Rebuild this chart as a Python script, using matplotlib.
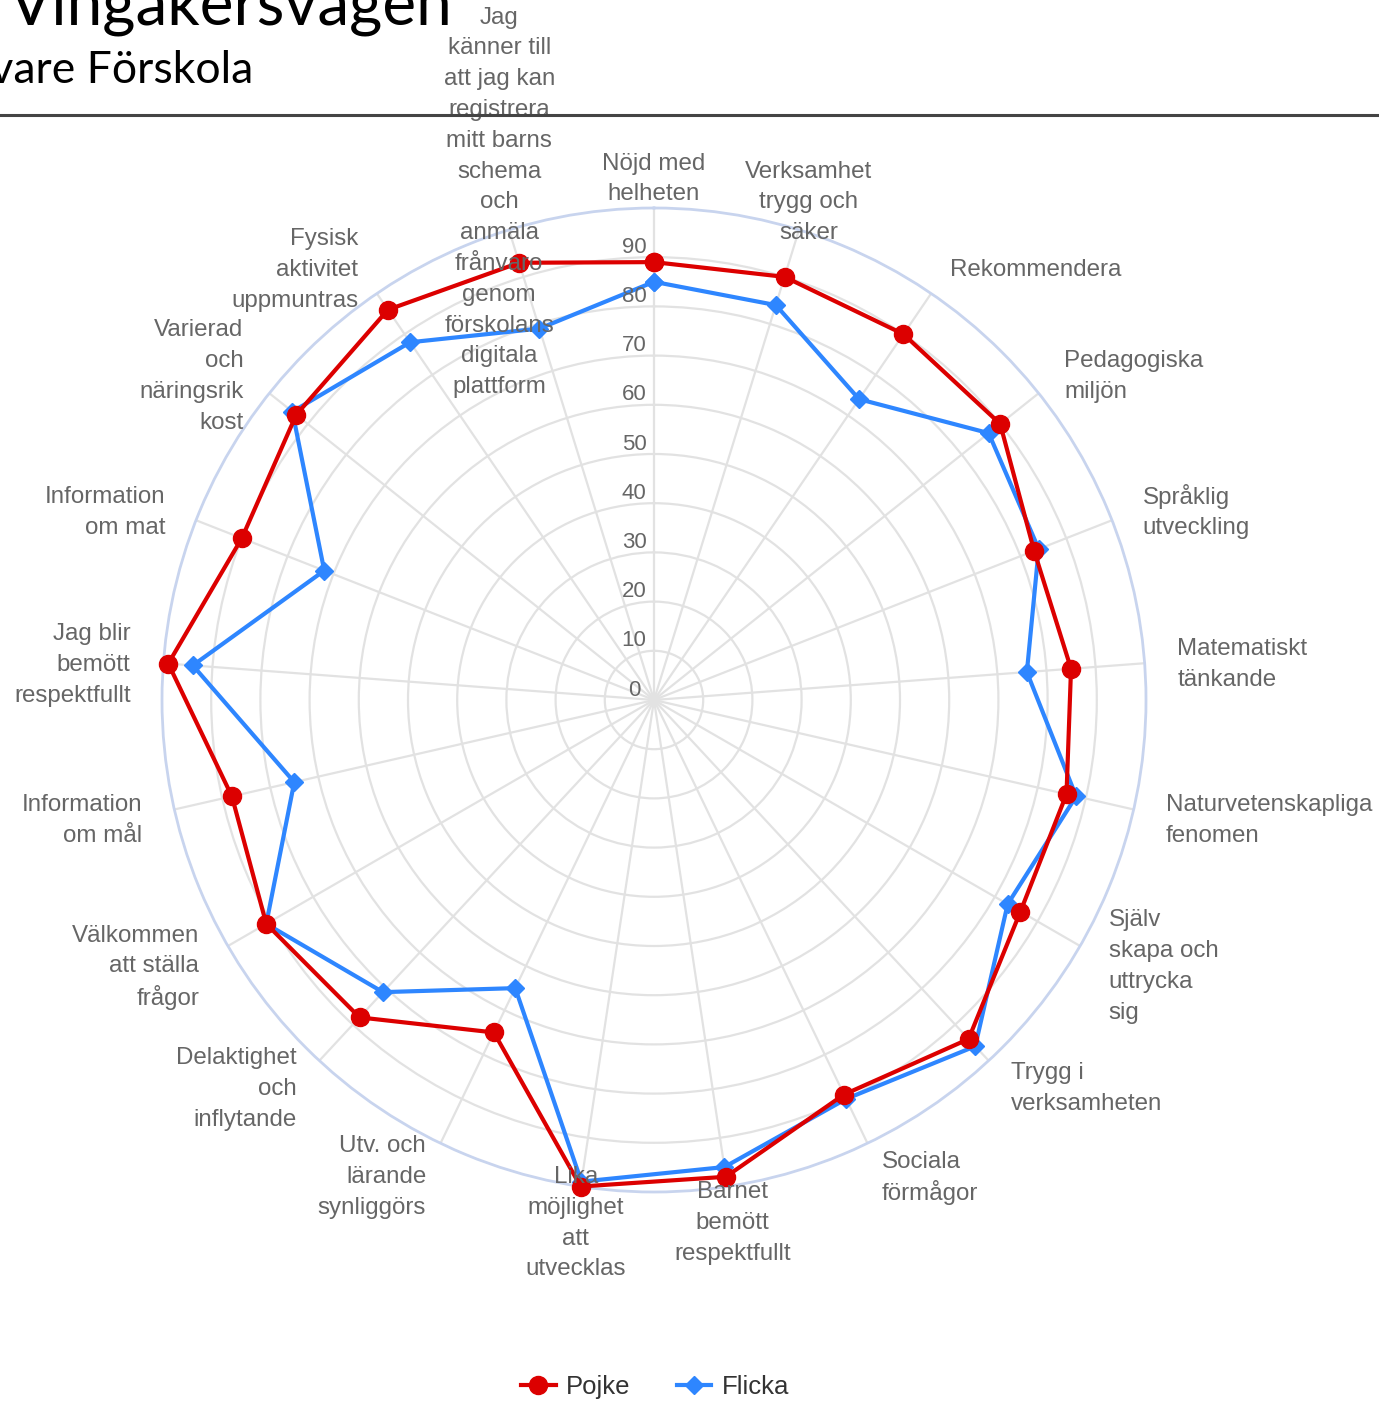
import numpy as np
import matplotlib
matplotlib.use("Agg")
import matplotlib.pyplot as plt
from matplotlib.transforms import offset_copy
from matplotlib.lines import Line2D

plt.rcParams['font.family'] = ['Liberation Sans', 'DejaVu Sans']

# categories, clockwise from the top
labels = [
    "Nöjd med\nhelheten",
    "Verksamhet\ntrygg och\nsäker",
    "Rekommendera",
    "Pedagogiska\nmiljön",
    "Språklig\nutveckling",
    "Matematiskt\ntänkande",
    "Naturvetenskapliga\nfenomen",
    "Själv\nskapa och\nuttrycka\nsig",
    "Trygg i\nverksamheten",
    "Sociala\nförmågor",
    "Barnet\nbemött\nrespektfullt",
    "Lika\nmöjlighet\natt\nutvecklas",
    "Utv. och\nlärande\nsynliggörs",
    "Delaktighet\noch\ninflytande",
    "Välkommen\natt ställa\nfrågor",
    "Information\nom mål",
    "Jag blir\nbemött\nrespektfullt",
    "Information\nom mat",
    "Varierad\noch\nnäringsrik\nkost",
    "Fysisk\naktivitet\nuppmuntras",
    "Jag\nkänner till\natt jag kan\nregistrera\nmitt barns\nschema\noch\nanmäla\nfrånvaro\ngenom\nförskolans\ndigitala\nplattform",
]

pojke = [89, 90, 90, 90, 83, 85, 86, 86, 94, 89, 98, 100, 75, 88, 91, 88, 99, 90, 93, 96, 93]
flicka = [85, 84, 74, 87, 84, 76, 88, 83, 96, 90, 96, 99, 65, 81, 91, 75, 94, 72, 94, 88, 79]

ticks = [0, 10, 20, 30, 40, 50, 60, 70, 80, 90]

red = '#dc0000'
blue = '#2e86ff'
grey_txt = '#666666'

W, H = 1379, 1402
fig = plt.figure(figsize=(W / 100, H / 100), dpi=100)

cx, cy, R = 654, 700, 492
ax = fig.add_axes([(cx - R) / W, (H - cy - R) / H, 2 * R / W, 2 * R / H], projection='polar')
ax.set_theta_zero_location('N')
ax.set_theta_direction(-1)
ax.set_ylim(0, 100)

n = len(labels)
theta = np.arange(n) * 2 * np.pi / n

ax.set_xticks(theta)
ax.set_xticklabels([])
ax.set_yticks(ticks[1:])
ax.set_yticklabels([])
ax.grid(color='#e2e2e2', linewidth=1.6)
ax.spines['polar'].set_color('#c8d4ee')
ax.spines['polar'].set_linewidth(2)
ax.tick_params(length=0)

# series
t_closed = np.append(theta, theta[0])
ax.plot(t_closed, pojke + pojke[:1], color=red, lw=3, marker='o', ms=13, zorder=5, clip_on=False)
ax.plot(t_closed, flicka + flicka[:1], color=blue, lw=3, marker='D', ms=9, zorder=4, clip_on=False)

# radial tick labels along the top spoke
tr = offset_copy(ax.transData, fig=fig, x=-20, y=10, units='dots')
for v in ticks:
    ax.text(0, v, str(v), transform=tr, ha='center', va='center', fontsize=16, color=grey_txt, zorder=6)

# category labels, one text per line so the line pitch stays even
line_h = 30.8
for t, lab in zip(theta, labels):
    deg = np.degrees(t)
    if deg < 20 or abs(deg - 180) < 20 or deg > 340:
        ha = 'center'
    elif deg < 180:
        ha = 'left'
    else:
        ha = 'right'
    rows = lab.split('\n')
    k = len(rows)
    for i, row in enumerate(rows):
        dy = ((k - 1) / 2 - i) * line_h - 4
        tt = offset_copy(ax.transData, fig=fig, x=0, y=dy, units='dots')
        ax.text(t, 106.7, row, transform=tt, ha=ha, va='center', fontsize=17.4,
                color=grey_txt, clip_on=False, zorder=7)

# legend
handles = [
    Line2D([], [], color=red, lw=3, marker='o', ms=13),
    Line2D([], [], color=blue, lw=3, marker='D', ms=9),
]
fig.legend(handles, ['Pojke', 'Flicka'], loc='center', bbox_to_anchor=(655 / W, 1 - 1387 / H),
           ncol=2, frameon=False, fontsize=18.5, handlelength=1.35, handletextpad=0.4,
           columnspacing=1.8, labelcolor='#333333')

# header (cropped at the left/top edge as in the source)
fig.text(453 / W, 1 - 25 / H, "Vingåkersvägen", ha='right', va='baseline', fontsize=46,
         family='Lato', color='black')
fig.text(253 / W, 1 - 83 / H, "Vårdnadshavare Förskola", ha='right', va='baseline', fontsize=32,
         family='Lato', color='black')
fig.add_artist(Line2D([0, 1], [1 - 115 / H, 1 - 115 / H], color='#444444', lw=2.2))

fig.savefig('out.png', dpi=100)
